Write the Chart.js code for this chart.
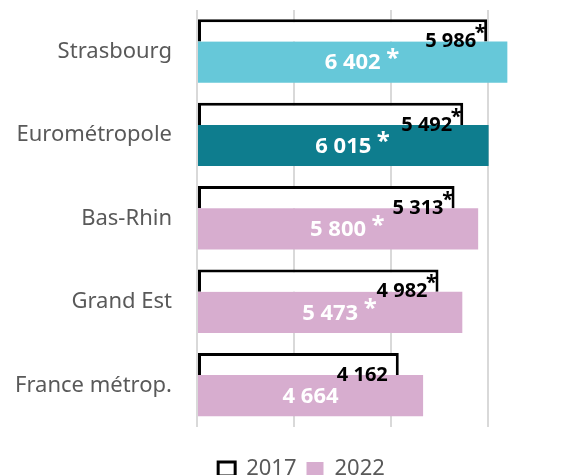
<!DOCTYPE html>
<html lang="fr">
<head>
<meta charset="utf-8">
<title>Revenus 2017 / 2022</title>
<script src="https://cdn.jsdelivr.net/npm/chart.js@4.4.1/dist/chart.umd.min.js"></script>
<style>
    html, body { margin: 0; padding: 0; background: #fff; overflow: hidden; }
    .chart-box { position: relative; width: 579px; height: 490px; }
</style>
</head>
<body>
<div class="chart-box"><canvas id="revenueChart"></canvas></div>
<script>
const categories = ["Strasbourg", "Eurométropole", "Bas-Rhin", "Grand Est", "France métrop."];
const values2017 = [5986, 5492, 5313, 4982, 4162];
const values2022 = [6402, 6015, 5800, 5473, 4664];
const starred2017 = [true, true, true, true, false];
const starred2022 = [true, true, true, true, false];
const colors2022 = ["#66c8d9", "#0e7d8e", "#d7adcf", "#d7adcf", "#d7adcf"];
const gridValues = [0, 2000, 4000, 6000];

const labelGray = "#595959";
const pink = colors2022[4];
const font = "'Noto Sans', 'DejaVu Sans', sans-serif";

// 5986 -> "5 986"
const fmt = (v) => String(v).replace(/\B(?=(\d{3})+(?!\d))/g, " ");

const barLabels = {
    id: "barLabels",
    afterLayout(chart) {
        // la legende est un peu decalee a droite dans l'original
        if (chart.legend) {
            chart.legend.left += 12;
            chart.legend.right += 12;
        }
    },
    afterDatasetsDraw(chart) {
        const ctx = chart.ctx;
        ctx.save();
        ctx.textBaseline = "middle";

        // 2022 : valeur centree dans la barre, en blanc
        chart.getDatasetMeta(1).data.forEach((bar, i) => {
            const { x, y, base } = bar.getProps(["x", "y", "base"], true);
            const text = fmt(values2022[i]);
            const cx = (x + base) / 2;
            ctx.font = `bold 22px ${font}`;
            ctx.fillStyle = "#fff";
            ctx.textAlign = "center";
            ctx.fillText(text, cx, y + 1);
            if (starred2022[i]) {
                const w = ctx.measureText(text).width;
                ctx.font = `bold 24px ${font}`;
                ctx.fillText("*", cx + w / 2 + 12, y - 3);
            }
        });

        // 2017 : valeur a droite, a cheval sur le bas de la barre
        chart.getDatasetMeta(0).data.forEach((bar, i) => {
            const { x, y, height } = bar.getProps(["x", "y", "height"], true);
            const ty = y + height / 2;
            ctx.font = `bold 20px ${font}`;
            ctx.fillStyle = "#000";
            ctx.textAlign = "right";
            ctx.fillText(fmt(values2017[i]), x - 11, ty);
            if (starred2017[i]) {
                ctx.textAlign = "center";
                ctx.fillText("*", x - 7, ty - 8);
            }
        });
        ctx.restore();
    }
};

new Chart(document.getElementById("revenueChart"), {
    type: "bar",
    data: {
        labels: categories,
        datasets: [
            {
                label: "2017",
                data: values2017,
                backgroundColor: "#fff",
                borderColor: "#000",
                borderWidth: 3,
                borderSkipped: "bottom",
                categoryPercentage: 1.0216,
                barPercentage: 0.521
            },
            {
                label: "2022",
                data: values2022,
                backgroundColor: colors2022,
                borderWidth: 0,
                categoryPercentage: 0.499,
                barPercentage: 1.98
            }
        ]
    },
    options: {
        indexAxis: "y",
        responsive: true,
        maintainAspectRatio: false,
        animation: false,
        layout: { padding: { top: 10, left: 0, right: 0, bottom: 0 } },
        scales: {
            x: {
                min: 0,
                max: 7880,
                afterBuildTicks: (axis) => {
                    axis.ticks = gridValues.map((v) => ({ value: v }));
                },
                afterFit: (axis) => {
                    axis.height = 21;
                },
                ticks: { display: false },
                grid: { color: "#d9d9d9", lineWidth: 2, drawTicks: false },
                border: { display: false }
            },
            y: {
                afterFit: (axis) => {
                    axis.width = 197;
                },
                grid: { display: false, drawTicks: true, tickLength: 25 },
                border: { display: false },
                ticks: {
                    color: labelGray,
                    padding: 0,
                    font: { family: font, size: 22, lineHeight: 0.9 }
                }
            }
        },
        plugins: {
            tooltip: { enabled: false },
            legend: {
                position: "bottom",
                labels: {
                    color: labelGray,
                    boxWidth: 17,
                    boxHeight: 14,
                    padding: 10,
                    font: { family: font, size: 22 },
                    generateLabels: () => [
                        { text: "2017", fillStyle: "#fff", strokeStyle: "#000", lineWidth: 3, fontColor: labelGray, datasetIndex: 0 },
                        { text: "2022", fillStyle: pink, strokeStyle: pink, lineWidth: 0, fontColor: labelGray, datasetIndex: 1 }
                    ]
                }
            }
        }
    },
    plugins: [barLabels]
});
</script>
</body>
</html>
